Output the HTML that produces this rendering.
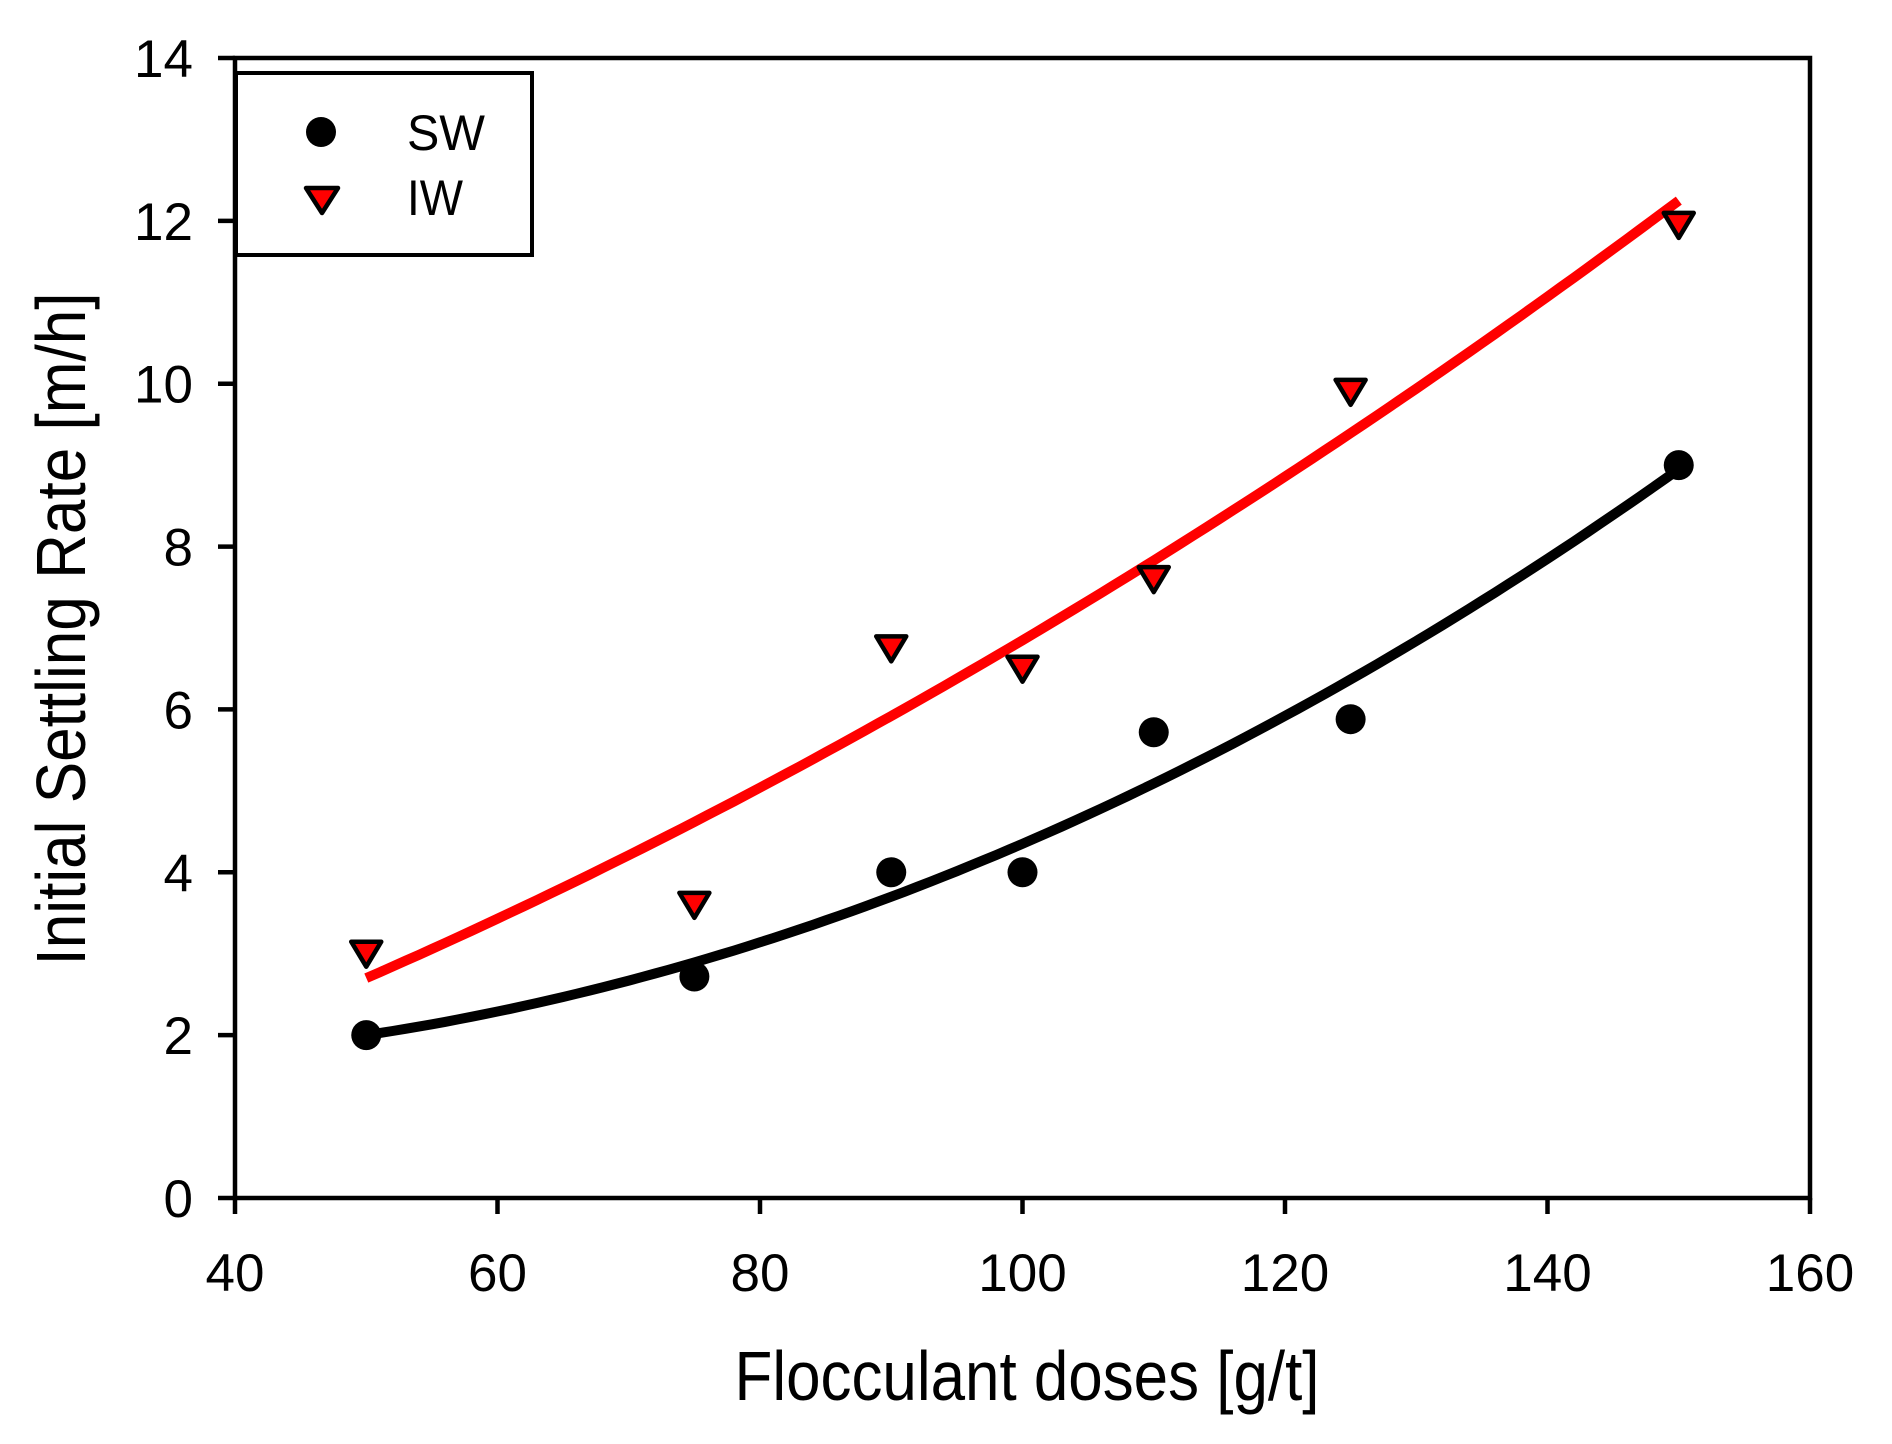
<!DOCTYPE html>
<html><head><meta charset="utf-8"><style>html,body{margin:0;padding:0;background:#fff}svg{display:block}</style></head>
<body>
<svg id="s" width="1892" height="1444" viewBox="0 0 1892 1444" xmlns="http://www.w3.org/2000/svg" font-family="Liberation Sans, Arial, sans-serif">
<rect width="1892" height="1444" fill="#fff"/>
<g id="g"></g>
<g stroke="#000" stroke-width="4.5" fill="none">
<rect x="235" y="58" width="1575" height="1140"/>
<rect x="236" y="73" width="296" height="182" stroke-width="4"/>
</g>
<text x="1027" y="1400" font-size="70" text-anchor="middle" textLength="585" lengthAdjust="spacingAndGlyphs">Flocculant doses [g/t]</text>
<text transform="translate(85,629) rotate(-90)" font-size="70" text-anchor="middle" textLength="673" lengthAdjust="spacingAndGlyphs">Initial Settling Rate [m/h]</text>
<circle cx="321" cy="132" r="15" fill="#000"/>
<polygon points="306,188 338,188 322,213" fill="#f00" stroke="#000" stroke-width="4.5" stroke-linejoin="round"/>
<text x="407" y="150" font-size="50" textLength="78" lengthAdjust="spacingAndGlyphs">SW</text>
<text x="407" y="215" font-size="50" textLength="56" lengthAdjust="spacingAndGlyphs">IW</text>
</svg>
<script>
var g=document.getElementById('g'),NS='http://www.w3.org/2000/svg';
function X(v){return 235+(v-40)*1575/120}
function Y(v){return 1198-v*1140/14}
function el(t,a){var e=document.createElementNS(NS,t);for(var k in a)e.setAttribute(k,a[k]);g.appendChild(e);return e}
var h='';
for(var i=0;i<=7;i++){var y=Y(i*2);h+='M218,'+y+'H235 ';var t=el('text',{x:193,y:y+19,'font-size':53,'text-anchor':'end'});t.textContent=i*2;}
for(var i=0;i<=6;i++){var x=X(40+i*20);h+='M'+x+',1198V1214 ';var t=el('text',{x:x,y:1291,'font-size':53,'text-anchor':'middle'});t.textContent=40+i*20;}
el('path',{d:h,stroke:'#000','stroke-width':4.5,fill:'none'});
var p1='',p2='';
for(var v=50;v<=150;v+=1){var u=v-50;var s=2+0.0245*u+0.00045*u*u;var r=2.7+0.0705*u+0.00025*u*u-u*0.00001;p1+=(v==50?'M':'L')+X(v).toFixed(1)+','+Y(s).toFixed(1);p2+=(v==50?'M':'L')+X(v).toFixed(1)+','+Y(r).toFixed(1);}
el('path',{d:p1,stroke:'#000','stroke-width':10,fill:'none'});
el('path',{d:p2,stroke:'#f00','stroke-width':10,fill:'none'});
var sw=[[50,2],[75,2.72],[90,4],[100,4],[110,5.72],[125,5.88],[150,9]];
var iw=[[50,3],[75,3.6],[90,6.75],[100,6.5],[110,7.6],[125,9.9],[150,11.95]];
sw.forEach(function(d){el('circle',{cx:X(d[0]),cy:Y(d[1]),r:15,fill:'#000'})});
iw.forEach(function(d){var x=X(d[0]),y=Y(d[1]);el('polygon',{points:(x-15)+','+(y-12)+' '+(x+15)+','+(y-12)+' '+x+','+(y+13),fill:'#f00',stroke:'#000','stroke-width':4.5,'stroke-linejoin':'round'})});
</script>
</body></html>
